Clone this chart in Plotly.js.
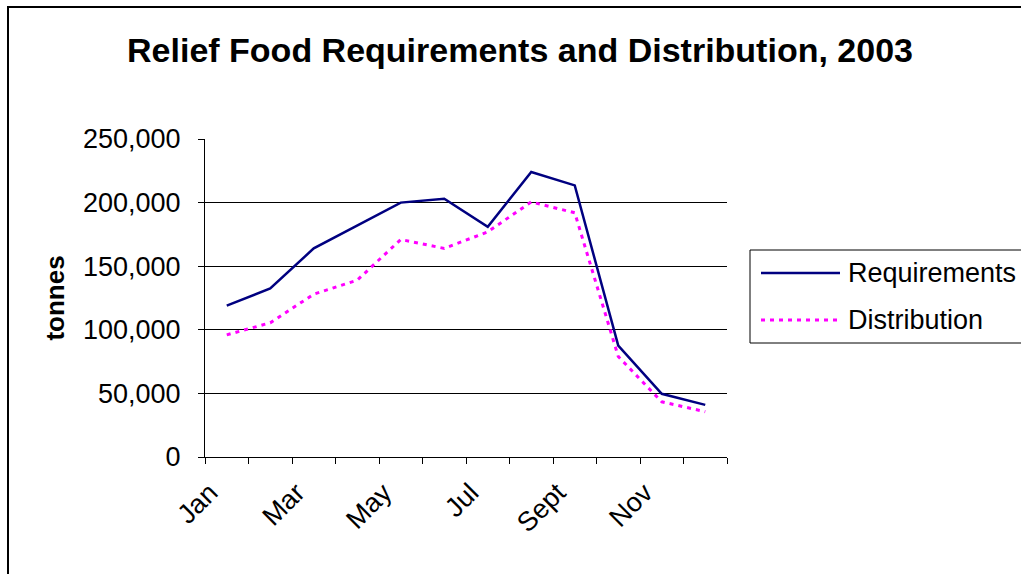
<!DOCTYPE html>
<html>
<head>
<meta charset="utf-8">
<script src="https://cdn.plot.ly/plotly-3.0.1.min.js"></script>
<style>
  html, body { margin: 0; padding: 0; background: #fff; }
  #chart { position: absolute; left: 0; top: 0; width: 1021px; height: 574px; }
  #frame { position: absolute; left: 7px; top: 6px; width: 1100px; height: 700px;
           border-left: 2px solid #000; border-top: 2px solid #000; pointer-events: none; }
</style>
</head>
<body>
<div id="chart"></div>
<div id="frame"></div>
<script>
const months = ['Jan','Feb','Mar','Apr','May','Jun','Jul','Aug','Sept','Oct','Nov','Dec'];
const tickLabels = ['Jan','','Mar','','May','','Jul','','Sept','','Nov',''];
const requirements = [119000, 132500, 164000, 182000, 200000, 203000, 181000, 224000, 213500, 87500, 49700, 41000];
const distribution = [96000, 105500, 128000, 139000, 171000, 164000, 177000, 200500, 192000, 79000, 43400, 35600];
const seriesNames = ['Requirements', 'Distribution'];
const chartTitle = 'Relief Food Requirements and Distribution, 2003';
const yTitle = 'tonnes';

const FONT = 'Liberation Sans, Arial, sans-serif';

const traces = [
  { x: months, y: requirements, type: 'scatter', mode: 'lines', name: seriesNames[0],
    line: { color: '#000080', width: 2.5 } },
  { x: months, y: distribution, type: 'scatter', mode: 'lines', name: seriesNames[1],
    line: { color: '#FF00FF', width: 3, dash: '4px,5px' } }
];

// legend geometry helpers (paper coords)
const px = v => (v - 205) / 522;
const py = v => (457 - v) / 318;

const layout = {
  width: 1021, height: 574,
  paper_bgcolor: 'rgba(0,0,0,0)', plot_bgcolor: 'rgba(0,0,0,0)',
  margin: { l: 205, r: 294, t: 139, b: 117, autoexpand: false },
  showlegend: false,
  font: { family: FONT, color: '#000', size: 27 },
  title: { text: '<b>' + chartTitle + '</b>', font: { family: FONT, size: 34, color: '#000' },
           x: 520 / 1021, xanchor: 'center', xref: 'container',
           y: 1 - 50 / 574, yanchor: 'middle', yref: 'container' },
  xaxis: {
    type: 'category', tickvals: months, ticktext: tickLabels, range: [-0.5, 11.5],
    tickson: 'boundaries', ticks: 'outside', ticklen: 6, tickcolor: '#000', tickwidth: 1,
    tickangle: -45, showline: true, linecolor: '#000', linewidth: 1,
    ticklabelshift: -17, ticklabelstandoff: 8,
    showgrid: false, zeroline: false, tickfont: { size: 27, family: FONT }
  },
  yaxis: {
    range: [0, 250000], dtick: 50000, tickformat: ',d',
    ticks: 'outside', ticklen: 6, tickcolor: '#000', tickwidth: 1,
    showline: true, linecolor: '#000', linewidth: 1,
    showgrid: true, gridcolor: '#000', gridwidth: 1, zeroline: false,
    ticklabelstandoff: 12,
    tickfont: { size: 27, family: FONT },
    title: { text: '<b>' + yTitle + '</b>', font: { size: 26, family: FONT }, standoff: 10 }
  },
  shapes: [
    { type: 'rect', xref: 'paper', yref: 'paper', x0: px(750), x1: px(1040), y0: py(343), y1: py(250),
      line: { color: '#000', width: 1 }, fillcolor: 'rgba(0,0,0,0)' },
    { type: 'line', xref: 'paper', yref: 'paper', x0: px(761), x1: px(840), y0: py(273), y1: py(273),
      line: { color: '#000080', width: 2.5 } },
    { type: 'line', xref: 'paper', yref: 'paper', x0: px(761), x1: px(840), y0: py(320), y1: py(320),
      line: { color: '#FF00FF', width: 3, dash: '4px,5px' } }
  ],
  annotations: [
    { xref: 'paper', yref: 'paper', x: px(846), y: py(273), xanchor: 'left', yanchor: 'middle',
      text: seriesNames[0], showarrow: false, font: { size: 27, family: FONT } },
    { xref: 'paper', yref: 'paper', x: px(846), y: py(320), xanchor: 'left', yanchor: 'middle',
      text: seriesNames[1], showarrow: false, font: { size: 27, family: FONT } }
  ]
};

Plotly.newPlot('chart', traces, layout, { staticPlot: true, displayModeBar: false });
</script>
</body>
</html>
